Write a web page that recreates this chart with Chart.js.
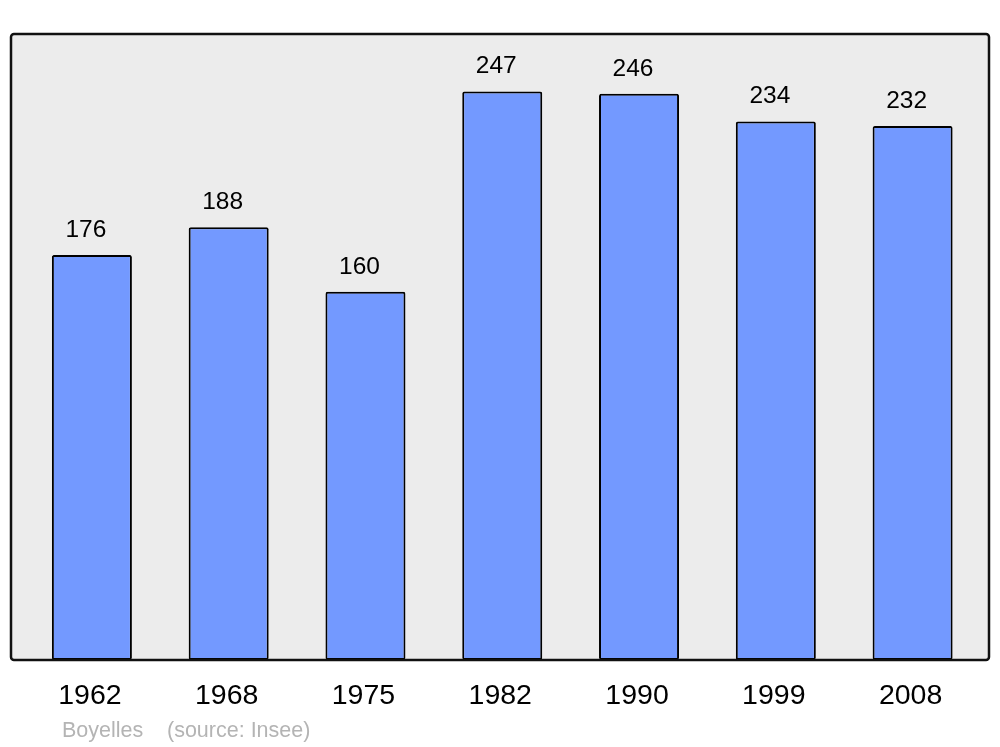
<!DOCTYPE html>
<html>
<head>
<meta charset="utf-8">
<script src="https://cdn.jsdelivr.net/npm/chart.js@4"></script>
<style>
  html, body { margin: 0; padding: 0; background: #fff; }
  #wrap { width: 1000px; height: 747px; position: relative; }
</style>
</head>
<body>
<div id="wrap"><canvas id="popChart"></canvas></div>
<script>
const years = ['1962', '1968', '1975', '1982', '1990', '1999', '2008'];
const population = [176, 188, 160, 247, 246, 234, 232];
const commune = 'Boyelles';
const sourceNote = '(source: Insee)';

// frame + labels drawn around the bars
const framePlugin = {
    id: 'frame',
    beforeDraw(chart) {
        const { ctx, chartArea } = chart;
        const x0 = chartArea.left - 12.5, x1 = chartArea.right + 8;
        const y0 = chartArea.top, y1 = chartArea.bottom;
        ctx.save();
        ctx.beginPath();
        ctx.roundRect(x0, y0, x1 - x0, y1 - y0, 3);
        ctx.fillStyle = '#ececec';
        ctx.fill();
        ctx.restore();
    },
    afterDatasetsDraw(chart) {
        const { ctx, chartArea } = chart;
        const xs = chart.scales.x, ys = chart.scales.y;
        const x0 = chartArea.left - 12.5, x1 = chartArea.right + 8;
        const y0 = chartArea.top, y1 = chartArea.bottom;
        ctx.save();
        ctx.beginPath();
        ctx.roundRect(x0, y0, x1 - x0, y1 - y0, 3);
        ctx.lineWidth = 2.5;
        ctx.strokeStyle = '#111';
        ctx.stroke();

        ctx.textAlign = 'center';
        ctx.textBaseline = 'middle';
        ctx.fillStyle = '#000';
        ctx.font = '24.5px "Liberation Sans", Arial, sans-serif';
        population.forEach((v, i) => {
            ctx.fillText(String(v), xs.getPixelForValue(i) - 6, ys.getPixelForValue(v) - 25);
        });
        ctx.font = '28.5px "Liberation Sans", Arial, sans-serif';
        years.forEach((y, i) => {
            ctx.fillText(y, xs.getPixelForValue(i) - 2, y1 + 36);
        });
        ctx.textAlign = 'left';
        ctx.font = '21.5px "Liberation Sans", Arial, sans-serif';
        ctx.fillStyle = '#b4b4b4';
        ctx.fillText(commune, 62, 731);
        ctx.fillText(sourceNote, 167, 731);
        ctx.restore();
    }
};

new Chart(document.getElementById('popChart'), {
    type: 'bar',
    data: {
        labels: years,
        datasets: [{
            data: population,
            backgroundColor: '#7399ff',
            borderColor: '#000',
            borderWidth: 2,
            borderRadius: 2,
            borderSkipped: false,
            categoryPercentage: 1,
            barPercentage: 0.585
        }]
    },
    options: {
        responsive: true,
        maintainAspectRatio: false,
        animation: false,
        layout: { padding: { left: 23.5, right: 19, top: 34, bottom: 87 } },
        plugins: { legend: { display: false }, tooltip: { enabled: false } },
        scales: {
            x: { display: false },
            y: { display: false, min: 0, max: 272 }
        }
    },
    plugins: [framePlugin]
});
</script>
</body>
</html>
